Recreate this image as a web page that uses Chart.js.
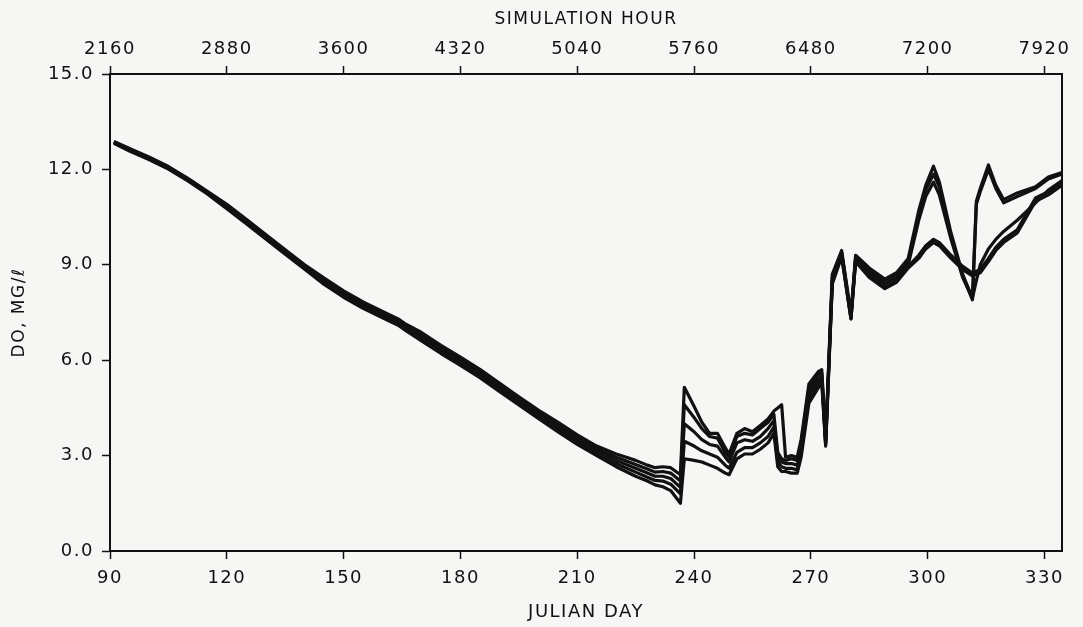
<!DOCTYPE html>
<html>
<head>
    <title>DO vs Julian Day</title>
    <script src="https://cdn.jsdelivr.net/npm/chart.js"></script>
    <style>
        body { margin: 0; background: #f6f6f4; }
        #wrap { width: 1083px; height: 627px; }
    </style>
</head>
<body>
    <div id="wrap"><canvas id="doChart" width="1083" height="627"></canvas></div>

    <script>
        // Julian day of each sample, shared by all runs
        const days = [91, 95, 100, 105, 110, 115, 120, 125, 130, 135,
            140, 145, 150, 155, 160, 164, 166, 170, 175, 180,
            185, 190, 195, 200, 205, 210, 215, 220, 225, 228,
            230, 232, 234, 236.5, 237.5, 240, 242, 244, 246, 248,
            249, 251, 253, 255, 257, 259, 260.5, 261.5, 262.5, 263.5,
            265, 266.5, 267.5, 269.5, 272, 272.8, 273.8, 275.5, 277.9, 280.3,
            281.5, 285, 289, 292, 295, 297.7, 299.5, 301.5, 303, 306,
            309, 311.5, 312.5, 313.5, 315.6, 317.5, 319.5, 323, 327.7, 331,
            334.5];

        // DO (mg/l) for each simulated run
        const runA = [12.88, 12.66, 12.39, 12.09, 11.72, 11.31, 10.9, 10.43, 9.95, 9.47,
            9.0, 8.58, 8.18, 7.83, 7.53, 7.3, 7.13, 6.87, 6.47, 6.1,
            5.71, 5.28, 4.85, 4.43, 4.05, 3.65, 3.3, 3.05, 2.85, 2.7,
            2.62, 2.65, 2.62, 2.4, 5.15, 4.55, 4.05, 3.7, 3.7, 3.25,
            3.05, 3.7, 3.85, 3.75, 3.95, 4.15, 4.4, 4.5, 4.6, 2.95,
            3.0, 2.95, 3.5, 5.25, 5.65, 5.7, 3.5, 8.7, 9.45, 7.45,
            9.3, 8.9, 8.55, 8.75, 9.2, 10.7, 11.5, 12.1, 11.6, 10.0,
            8.7, 7.95, 11.0, 11.4, 12.14, 11.5, 11.05, 11.26, 11.45, 11.76,
            11.9];
        const runB = [12.86, 12.64, 12.37, 12.07, 11.7, 11.29, 10.86, 10.4, 9.92, 9.44,
            8.97, 8.53, 8.13, 7.78, 7.48, 7.25, 7.08, 6.8, 6.4, 6.03,
            5.64, 5.21, 4.78, 4.36, 3.98, 3.58, 3.23, 2.95, 2.72, 2.58,
            2.48, 2.5, 2.45, 2.2, 4.6, 4.2, 3.85, 3.6, 3.55, 3.1,
            2.95, 3.6, 3.7, 3.65, 3.85, 4.05, 4.3, 3.1, 2.9, 2.85,
            2.9, 2.85, 3.4, 5.1, 5.55, 5.6, 3.45, 8.6, 9.4, 7.4,
            9.25, 8.85, 8.5, 8.7, 9.1, 10.55, 11.35, 11.85, 11.45, 9.9,
            8.65, 7.9, 10.9, 11.3, 12.0, 11.4, 10.95, 11.15, 11.4, 11.7,
            11.85];
        const runC = [12.85, 12.62, 12.35, 12.05, 11.68, 11.27, 10.83, 10.36, 9.88, 9.4,
            8.93, 8.48, 8.08, 7.73, 7.43, 7.2, 7.03, 6.74, 6.34, 5.97,
            5.58, 5.15, 4.72, 4.3, 3.9, 3.5, 3.15, 2.85, 2.6, 2.45,
            2.35, 2.35, 2.28, 2.0, 4.0, 3.75, 3.5, 3.35, 3.3, 2.95,
            2.8, 3.4, 3.5, 3.45, 3.6, 3.85, 4.1, 2.95, 2.8, 2.75,
            2.75, 2.7, 3.25, 4.95, 5.4, 5.5, 3.4, 8.5, 9.35, 7.35,
            9.2, 8.8, 8.4, 8.6, 9.0, 10.4, 11.15, 11.6, 11.2, 9.8,
            8.6, 7.95, 8.5, 9.0, 9.5, 9.8, 10.05, 10.4, 10.95, 11.35,
            11.65];
        const runD = [12.84, 12.6, 12.33, 12.03, 11.66, 11.25, 10.8, 10.32, 9.84, 9.36,
            8.89, 8.43, 8.03, 7.68, 7.38, 7.15, 6.98, 6.68, 6.28, 5.91,
            5.52, 5.09, 4.66, 4.24, 3.82, 3.42, 3.07, 2.75, 2.48, 2.32,
            2.22, 2.2, 2.1, 1.8, 3.45, 3.3, 3.15, 3.05, 2.95, 2.7,
            2.6, 3.1, 3.25, 3.25, 3.4, 3.6, 3.9, 2.8, 2.65, 2.6,
            2.6, 2.55, 3.1, 4.8, 5.25, 5.4, 3.35, 8.45, 9.3, 7.3,
            9.15, 8.7, 8.3, 8.5, 8.95, 9.3, 9.6, 9.8, 9.7, 9.3,
            8.95, 8.74, 8.8, 8.85, 9.2, 9.55, 9.8, 10.1, 11.1, 11.3,
            11.6];
        const runE = [12.82, 12.58, 12.31, 12.01, 11.64, 11.23, 10.76, 10.29, 9.81, 9.33,
            8.86, 8.38, 7.98, 7.63, 7.33, 7.1, 6.93, 6.61, 6.21, 5.84,
            5.45, 5.02, 4.59, 4.17, 3.75, 3.35, 3.0, 2.65, 2.35, 2.2,
            2.08, 2.02, 1.9, 1.5, 2.9, 2.85, 2.8, 2.7, 2.6, 2.45,
            2.4, 2.9, 3.05, 3.05, 3.2, 3.4, 3.7, 2.65, 2.5, 2.5,
            2.45, 2.45, 2.95, 4.65, 5.15, 5.3, 3.3, 8.4, 9.25, 7.3,
            9.1, 8.6, 8.25, 8.45, 8.9, 9.2, 9.5, 9.7, 9.6, 9.2,
            8.85, 8.65, 8.7, 8.75, 9.1, 9.45, 9.7, 10.0, 11.0, 11.2,
            11.5];

        const runs = [runA, runB, runC, runD, runE];

        // tick labels
        const dayTicks = [90, 120, 150, 180, 210, 240, 270, 300, 330];
        const hourTicks = [2160, 2880, 3600, 4320, 5040, 5760, 6480, 7200, 7920];
        const doTicks = [0, 3, 6, 9, 12, 15];

        const dayMin = 90, dayMax = 334.5;
        const ink = '#111';
        const tickFont = { family: 'DejaVu Sans', size: 18 };
        const titleFont = { family: 'DejaVu Sans', size: 17 };

        // plotter style frame + wide lettering
        const framePlugin = {
            id: 'frame',
            beforeDraw(chart) {
                chart.ctx.letterSpacing = '1.5px';
            },
            afterDraw(chart) {
                const { ctx, chartArea: a } = chart;
                ctx.save();
                ctx.strokeStyle = ink;
                ctx.lineWidth = 2;
                ctx.strokeRect(a.left, a.top, a.right - a.left, a.bottom - a.top);
                ctx.restore();
            }
        };

        const axisGrid = { drawOnChartArea: false, drawTicks: true, tickLength: 8, tickColor: ink, tickWidth: 1.5 };
        const axisBorder = { display: true, color: ink, width: 2 };

        new Chart(document.getElementById('doChart'), {
            type: 'line',
            data: {
                datasets: runs.map(run => ({
                    data: days.map((d, i) => ({ x: d, y: run[i] })),
                    borderColor: ink,
                    borderWidth: 3.2,
                    borderJoinStyle: 'round',
                    pointRadius: 0,
                    tension: 0,
                    fill: false,
                    xAxisID: 'x',
                    yAxisID: 'y'
                }))
            },
            options: {
                responsive: false,
                animation: false,
                layout: { padding: { left: 0, right: 21, top: 0, bottom: 0 } },
                plugins: { legend: { display: false }, tooltip: { enabled: false } },
                scales: {
                    x: {
                        type: 'linear',
                        position: 'bottom',
                        min: dayMin,
                        max: dayMax,
                        afterBuildTicks: s => { s.ticks = dayTicks.map(v => ({ value: v })); },
                        afterFit: s => { s.height = 76; },
                        grid: axisGrid,
                        border: axisBorder,
                        ticks: { color: ink, font: tickFont, padding: 9, maxRotation: 0, callback: v => String(v) },
                        title: { display: true, text: 'JULIAN DAY', color: ink, font: { family: 'DejaVu Sans', size: 18 }, padding: { top: 0, bottom: 4 } }
                    },
                    x2: {
                        type: 'linear',
                        position: 'top',
                        min: dayMin * 24,
                        max: dayMax * 24,
                        afterBuildTicks: s => { s.ticks = hourTicks.map(v => ({ value: v })); },
                        afterFit: s => { s.height = 74; },
                        grid: axisGrid,
                        border: axisBorder,
                        ticks: { color: ink, font: tickFont, padding: 6, maxRotation: 0, callback: v => String(v) },
                        title: { display: true, text: 'SIMULATION HOUR', color: ink, font: titleFont, padding: { top: 9, bottom: 0 } }
                    },
                    y: {
                        type: 'linear',
                        position: 'left',
                        min: 0,
                        max: 15,
                        afterBuildTicks: s => { s.ticks = doTicks.map(v => ({ value: v })); },
                        afterFit: s => { s.width = 110; },
                        grid: axisGrid,
                        border: axisBorder,
                        ticks: { color: ink, font: tickFont, padding: 8, callback: v => v.toFixed(1) },
                        title: { display: true, text: 'DO, MG/ℓ', color: ink, font: titleFont, padding: { top: 9, bottom: 0 } }
                    }
                }
            },
            plugins: [framePlugin]
        });
    </script>
</body>
</html>
